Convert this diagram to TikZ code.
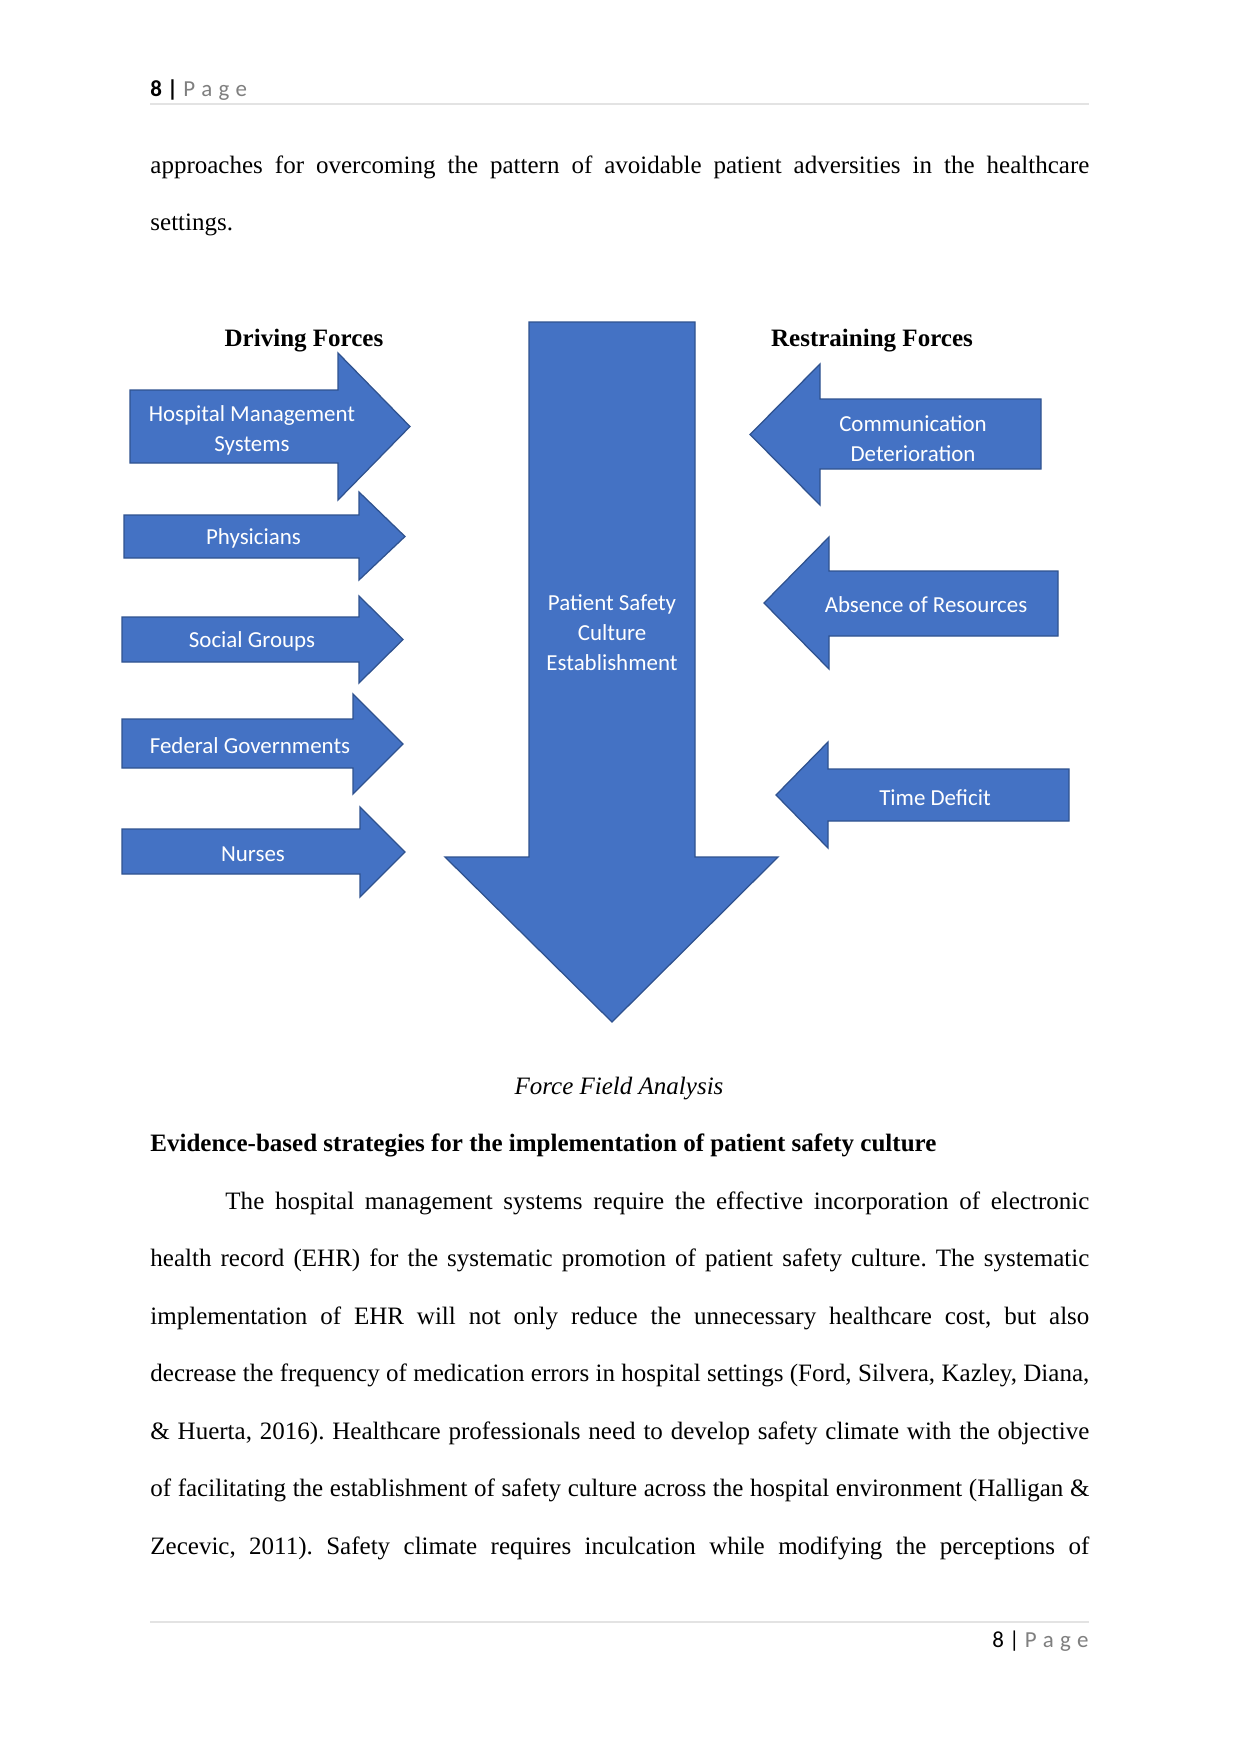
\documentclass[tikz,border=0pt]{standalone}
\usepackage{fontspec}
\setmainfont{Liberation Serif}
\newfontfamily\calibri{Carlito}
\frenchspacing
\definecolor{arrowblue}{HTML}{4472C4}
\definecolor{arrowedge}{HTML}{2F528F}
\definecolor{pagegray}{HTML}{7F7F7F}
\definecolor{rulegray}{HTML}{E3E3E3}
\newcommand{\jline}[1]{\hbox to 450.4pt{#1}}
\newcommand{\lline}[1]{\hbox to 450.4pt{#1\hfil}}
\newcommand{\pgword}{P\hspace{3pt}a\hspace{3pt}g\hspace{3pt}e}
\begin{document}
\begin{tikzpicture}[x=0.4797pt,y=-0.4797pt,
  farrow/.style={fill=arrowblue, draw=arrowedge, line width=0.6pt, line join=miter},
  flabel/.style={text=white, font=\calibri\fontsize{11}{14.4}\selectfont, align=center, inner sep=0pt},
  body/.style={anchor=mid west, inner sep=0pt, font=\fontsize{12}{14}\selectfont},
  headfoot/.style={inner sep=0pt, font=\calibri\fontsize{11}{13}\selectfont},
  hline/.style={draw=rulegray, line width=0.5pt},
  forcehead/.style={inner sep=0pt, font=\bfseries\fontsize{12}{14}\selectfont}]
\useasboundingbox (0,0) rectangle (1241,1754);
\fill[white] (0,0) rectangle (1241,1754);

% header / footer
\node[headfoot, anchor=mid west] (hdr) at (150,92) {\textbf{8 |} \textcolor{pagegray}{\pgword}};
\draw[hline] (150,104) -- (1089,104);
\draw[hline] (150,1622) -- (1089,1622);
\node[headfoot, anchor=mid east] (ftr) at (1089,1642.5) {8 | \textcolor{pagegray}{\pgword}};

% top text
\node[body] (t1) at (150,169.1) {\jline{approaches for overcoming the pattern of avoidable patient adversities in the healthcare}};
\node[body] (t2) at (150,226.2) {\lline{settings.}};

% headings
\node[forcehead] (drv) at (304,340.5) {Driving Forces};
\node[forcehead] (rst) at (872,340.5) {Restraining Forces};

% central arrow
\draw[farrow] (529,322) -- (695,322) -- (695,857) -- (778,857) -- (612,1022) -- (445,857) -- (529,857) -- cycle;
\node[flabel] (psc) at (612,632.5) {Patient Safety\\Culture\\Establishment};

% driving forces
\draw[farrow] (130,390) -- (338,390) -- (338,353) -- (410,426.5) -- (338,500) -- (338,463) -- (130,463) -- cycle;
\node[flabel] (hms) at (252,430.5) {Hospital Management\\Systems};
\draw[farrow] (124,515) -- (359,515) -- (359,492) -- (405,536.5) -- (359,580) -- (359,558) -- (124,558) -- cycle;
\node[flabel] (phy) at (253.5,538) {Physicians};
\draw[farrow] (122,617) -- (359,617) -- (359,596) -- (403,639.5) -- (359,683) -- (359,662) -- (122,662) -- cycle;
\node[flabel] (soc) at (252,641.5) {Social Groups};
\draw[farrow] (122,719) -- (353,719) -- (353,694) -- (403,744) -- (353,794) -- (353,768) -- (122,768) -- cycle;
\node[flabel] (fed) at (250,745.5) {Federal Governments};
\draw[farrow] (122,829) -- (360,829) -- (360,807) -- (405,852) -- (360,897) -- (360,874) -- (122,874) -- cycle;
\node[flabel] (nur) at (253,854) {Nurses};

% restraining forces
\draw[farrow] (1041,399) -- (820,399) -- (820,364) -- (750,434.5) -- (820,505) -- (820,469) -- (1041,469) -- cycle;
\node[flabel] (com) at (913,438.5) {Communication\\Deterioration};
\draw[farrow] (1058,571) -- (829,571) -- (829,537) -- (764,603) -- (829,669) -- (829,636) -- (1058,636) -- cycle;
\node[flabel] (abs) at (926,604.5) {Absence of Resources};
\draw[farrow] (1069,769) -- (828,769) -- (828,742) -- (776,795) -- (828,848) -- (828,821) -- (1069,821) -- cycle;
\node[flabel] (tim) at (935,797.5) {Time Deficit};

% caption and heading
\node[inner sep=0pt, anchor=mid, font=\itshape\fontsize{12}{14}\selectfont] (cap) at (619,1089.5) {Force Field Analysis};
\node[body, font=\bfseries\fontsize{12}{14}\selectfont] (sec) at (150,1146.5) {Evidence-based strategies for the implementation of patient safety culture};

% paragraph
\node[body] (p1) at (150,1204.3) {\jline{\hspace*{36pt}The hospital management systems require the effective incorporation of electronic}};
\node[body] (p2) at (150,1261.4) {\jline{health record (EHR) for the systematic promotion of patient safety culture. The systematic}};
\node[body] (p3) at (150,1319.6) {\jline{implementation of EHR will not only reduce the unnecessary healthcare cost, but also}};
\node[body] (p4) at (150,1376.6) {\jline{decrease the frequency of medication errors in hospital settings (Ford, Silvera, Kazley, Diana,}};
\node[body] (p5) at (150,1434.8) {\jline{\& Huerta, 2016). Healthcare professionals need to develop safety climate with the objective}};
\node[body] (p6) at (150,1491.9) {\jline{of facilitating the establishment of safety culture across the hospital environment (Halligan \&}};
\node[body] (p7) at (150,1550.1) {\jline{Zecevic, 2011). Safety climate requires inculcation while modifying the perceptions of}};
\end{tikzpicture}
\end{document}
